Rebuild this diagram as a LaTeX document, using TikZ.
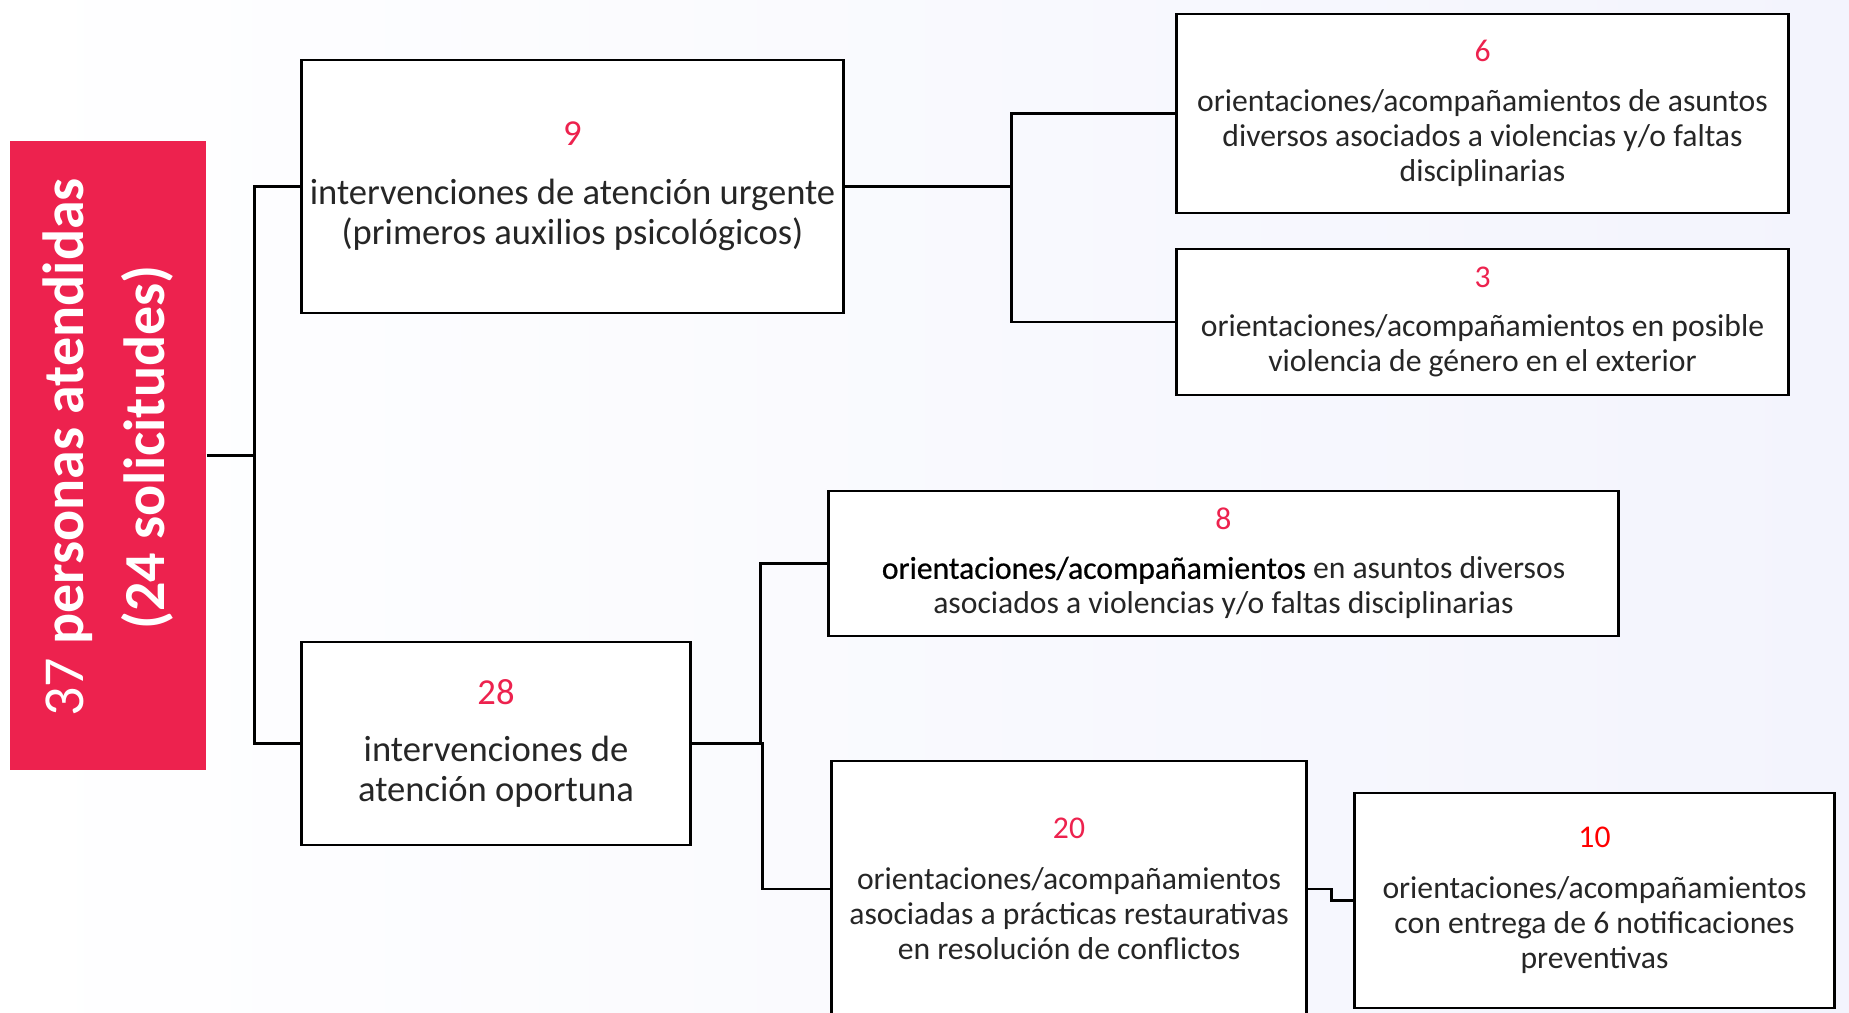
\documentclass[tikz,border=0pt]{standalone}
\usepackage{fontspec}
\setmainfont{Carlito}
\newfontfamily\fuerte[FakeBold=0.6]{Carlito}
\usepackage{xcolor}
\usetikzlibrary{positioning}
\definecolor{rosa}{RGB}{237,34,78}
\definecolor{fondo}{RGB}{243,244,253}

\begin{document}
\begin{tikzpicture}[x=0.01cm,y=-0.01cm,
		caja/.style={draw=black,line width=0.8pt,fill=white,align=center,inner sep=0pt,text=black!85},
		grande/.style={font=\fontsize{10.4}{11.4}\selectfont},
		chica/.style={font=\fontsize{9}{10}\selectfont},
		enlace/.style={line width=0.8pt}]
		\useasboundingbox (0,0) rectangle (1849,1013);
		\shade[left color=white,right color=fondo] (0,0) rectangle (1849,1013);
		% total
		\node[fill=rosa,minimum width=1.96cm,minimum height=6.29cm,inner sep=0pt] (total) at (108,455.5) {};
		\node[rotate=90,text=white,align=center,xshift=0.08cm,font=\fontsize{16.5}{23}\selectfont] (totaltxt) at (total.center)
			{37 \textbf{personas atendidas}\\\textbf{(24 solicitudes)}};
		% primer nivel
		\node[caja,grande,minimum width=5.41cm,minimum height=2.53cm] (urgente) at (572.5,186.5)
			{\textcolor{rosa}{9}\\[5.4pt]intervenciones de atención urgente\\(primeros auxilios psicológicos)};
		\node[caja,grande,minimum width=3.88cm,minimum height=2.03cm] (oportuna) at (496,743.5)
			{\textcolor{rosa}{28}\\[4.8pt]intervenciones de\\atención oportuna};
		% segundo nivel
		\node[caja,chica,minimum width=6.11cm,minimum height=1.99cm] (urg6) at (1482.5,113.5)
			{\textcolor{rosa}{6}\\[4pt]orientaciones/acompañamientos de asuntos\\diversos asociados a violencias y/o faltas\\disciplinarias};
		\node[caja,chica,minimum width=6.11cm,minimum height=1.46cm] (urg3) at (1482.5,322)
			{\textcolor{rosa}{3}\\[4pt]orientaciones/acompañamientos en posible\\violencia de género en el exterior};
		\node[caja,chica,minimum width=7.89cm,minimum height=1.45cm] (opo8) at (1223.5,563.5)
			{\textcolor{rosa}{8}\\[4pt]{\fuerte\color{black}orientaciones/acompañamientos} en asuntos diversos\\asociados a violencias y/o faltas disciplinarias};
		\node[caja,chica,minimum width=4.74cm,minimum height=2.56cm] (opo20) at (1069,889)
			{\textcolor{rosa}{20}\\[4.3pt]orientaciones/acompañamientos\\asociadas a prácticas restaurativas\\en resolución de conflictos};
		\node[caja,chica,minimum width=4.79cm,minimum height=2.15cm] (opo10) at (1594.5,900.5)
			{\textcolor{red}{10}\\[4.3pt]orientaciones/acompañamientos\\con entrega de 6 notificaciones\\preventivas};
		% conectores
		\draw[enlace] (total.east) -- ++(48,0) |- (urgente.west);
		\draw[enlace] (total.east) -- ++(48,0) |- (oportuna.west);
		\draw[enlace] (urgente.east) -- ++(167,0) |- (urg6.west);
		\draw[enlace] (urgente.east) -- ++(167,0) |- (urg3.west);
		\draw[enlace] (oportuna.east) -- ++(69,0) |- (opo8.west);
		\draw[enlace] (oportuna.east) -- ++(71,0) |- (opo20.west);
		\draw[enlace] (opo20.east) -- ++(24,0) |- (opo10.west);
	\end{tikzpicture}
\end{document}
